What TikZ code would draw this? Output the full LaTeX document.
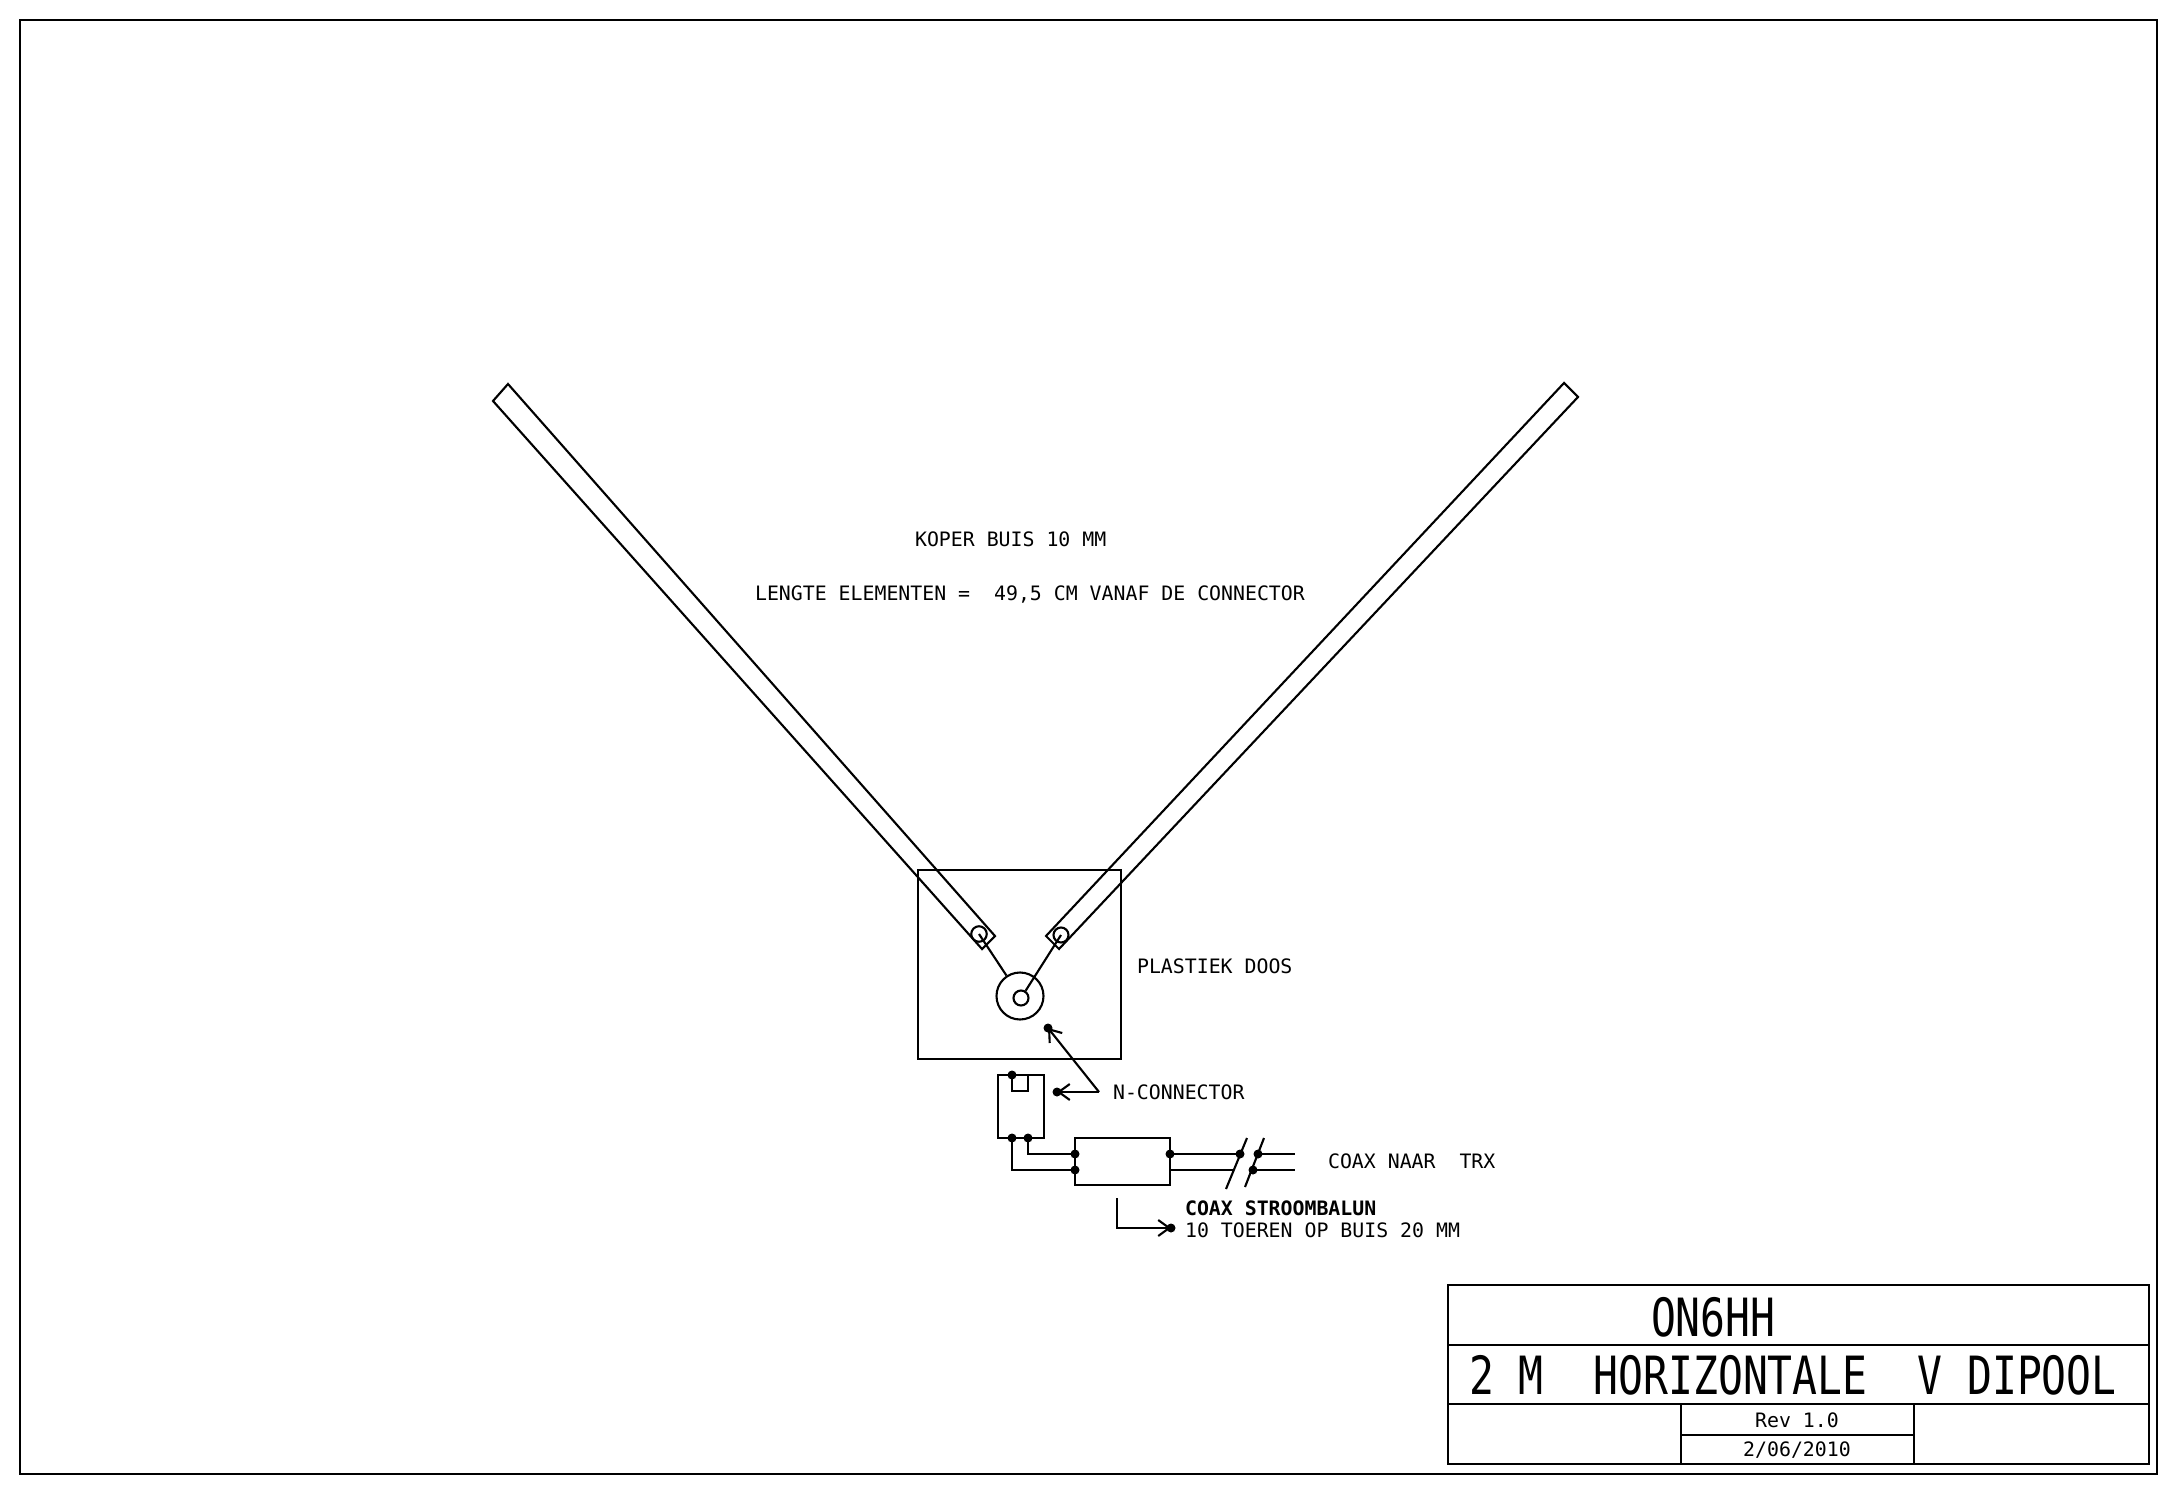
\documentclass[tikz,border=0pt]{standalone}
\usepackage{fontspec}
\setmainfont{DejaVu Sans Mono}
\newfontfamily\titlefont[FakeStretch=0.785]{DejaVu Sans Mono}
\usetikzlibrary{arrows.meta,positioning}

\begin{document}
\begin{tikzpicture}[x=0.02cm,y=-0.02cm]
        \tikzstyle{every node}=[font=\fontsize{11.3}{13}\selectfont,inner sep=0pt,text=black]
        \tikzstyle{every path}=[line width=1.2pt]
        \tikzstyle{dot}=[circle,fill=black,minimum size=9*0.02cm]
        \tikzstyle{barb}=[-{Straight Barb[length=2.2mm,width=3.2mm,line width=1.2pt]}]
        \tikzstyle{bigtext}=[font=\titlefont\fontsize{30}{32}\selectfont,anchor=west]
        \useasboundingbox (0,0) rectangle (2178,1494);

        %%% Frame and title block
        \coordinate (f1) at (20,20);
        \coordinate (f2) at (2157,1474);
        \draw (f1) rectangle (f2);
        \coordinate (t1) at (1448,1285);
        \coordinate (t2) at (2149,1464);
        \coordinate (tl1) at (1448,1345);
        \coordinate (tr1) at (2149,1345);
        \coordinate (tl2) at (1448,1404);
        \coordinate (tr2) at (2149,1404);
        \coordinate (ta) at (1681,1404);
        \coordinate (tb) at (1681,1464);
        \coordinate (tc) at (1914,1404);
        \coordinate (td) at (1914,1464);
        \coordinate (te) at (1681,1435);
        \coordinate (tf) at (1914,1435);
        \draw (t1) rectangle (t2);
        \draw (tl1) -- (tr1);
        \draw (tl2) -- (tr2);
        \draw (ta) -- (tb);
        \draw (tc) -- (td);
        \draw (te) -- (tf);
        \node[bigtext] (call) at (1650,1317) {ON6HH};
        \node[bigtext] (title) at (1468,1375) {2 M~~HORIZONTALE~~V DIPOOL};
        \node (rev) at (1797,1420) {Rev 1.0};
        \node (date) at (1797,1450) {2/06/2010};

        %%% Tubes
        \coordinate (la) at (508,384);
        \coordinate (lb) at (493,401);
        \coordinate (lc) at (982,949);
        \coordinate (ld) at (995,936);
        \draw (la) -- (lb) -- (lc) -- (ld) -- cycle;
        \coordinate (ra) at (1564,383);
        \coordinate (rb) at (1578,397);
        \coordinate (rc) at (1059,949);
        \coordinate (rd) at (1046,936);
        \draw (ra) -- (rb) -- (rc) -- (rd) -- cycle;

        %%% Plastic box with connector
        \coordinate (box1) at (918,870);
        \coordinate (box2) at (1121,1059);
        \draw (box1) rectangle (box2);
        \node[circle,draw,minimum size=15.5*0.02cm] (lhole) at (979,934) {};
        \node[circle,draw,minimum size=15*0.02cm] (rhole) at (1061,935) {};
        \node[circle,draw,minimum size=47*0.02cm] (nouter) at (1020,996) {};
        \node[circle,draw,minimum size=15*0.02cm] (ninner) at (1021,998) {};
        \draw (lhole.center) -- (nouter);
        \draw (rhole.center) -- (ninner);

        %%% N-connector plug and balun
        \coordinate (plug1) at (998,1075);
        \coordinate (plug2) at (1044,1138);
        \draw (plug1) rectangle (plug2);
        \coordinate (bal1) at (1075,1138);
        \coordinate (bal2) at (1170,1185);
        \draw (bal1) rectangle (bal2);
        \node[dot] (u1) at (1012,1075) {};
        \coordinate (u2) at (1012,1091);
        \coordinate (u3) at (1028,1091);
        \coordinate (u4) at (1028,1075);
        \draw (u1.center) -- (u2) -- (u3) -- (u4);
        \node[dot] (p1) at (1012,1138) {};
        \node[dot] (p2) at (1028,1138) {};
        \node[dot] (b1) at (1075,1154) {};
        \node[dot] (b2) at (1075,1170) {};
        \node[dot] (b3) at (1170,1154) {};
        \coordinate (b4) at (1170,1170);
        \draw (p2.center) |- (b1.center);
        \draw (p1.center) |- (b2.center);

        %%% Coax with break
        \coordinate (s1a) at (1247,1138);
        \coordinate (s1b) at (1226,1189);
        \coordinate (s2a) at (1264,1138);
        \coordinate (s2b) at (1245,1187);
        \draw (s1a) -- (s1b);
        \draw (s2a) -- (s2b);
        \node[dot] (c1) at (1240,1154) {};
        \node[dot] (c2) at (1258,1154) {};
        \node[dot] (c3) at (1253,1170) {};
        \coordinate (c4) at (1233,1170);
        \coordinate (e1) at (1295,1154);
        \coordinate (e2) at (1295,1170);
        \draw (b3.center) -- (c1.center);
        \draw (c2.center) -- (e1);
        \draw (b4) -- (c4);
        \draw (c3.center) -- (e2);

        %%% Pointers
        \node[dot] (nbox) at (1048,1028) {};
        \node[dot] (nplug) at (1057,1092) {};
        \node[dot] (nbal) at (1171,1228) {};
        \coordinate (nk) at (1099,1092);
        \coordinate (lk1) at (1117,1198);
        \coordinate (lk2) at (1117,1228);
        \draw[barb] (nk) -- (nbox.center);
        \draw[barb] (nk) -- (nplug.center);
        \draw[barb] (lk1) -- (lk2) -- (nbal.center);

        %%% Labels
        \node[anchor=west] (koper) at (914,539) {KOPER BUIS 10 MM};
        \node[anchor=west] (lengte) at (754,595) {LENGTE ELEMENTEN =~~49,5 CM VANAF DE CONNECTOR};
        \node[anchor=west] (doos) at (1136,966) {PLASTIEK DOOS};
        \node[anchor=west] (nconn) at (1112,1092) {N-CONNECTOR};
        \node[anchor=west] (trx) at (1327,1161) {COAX NAAR~~TRX};
        \node[anchor=west,font=\fontsize{11.3}{13}\selectfont\bfseries] (balun) at (1184,1208) {COAX STROOMBALUN};
        \node[anchor=west] (toeren) at (1184,1230) {10 TOEREN OP BUIS 20 MM};
\end{tikzpicture}
\end{document}
